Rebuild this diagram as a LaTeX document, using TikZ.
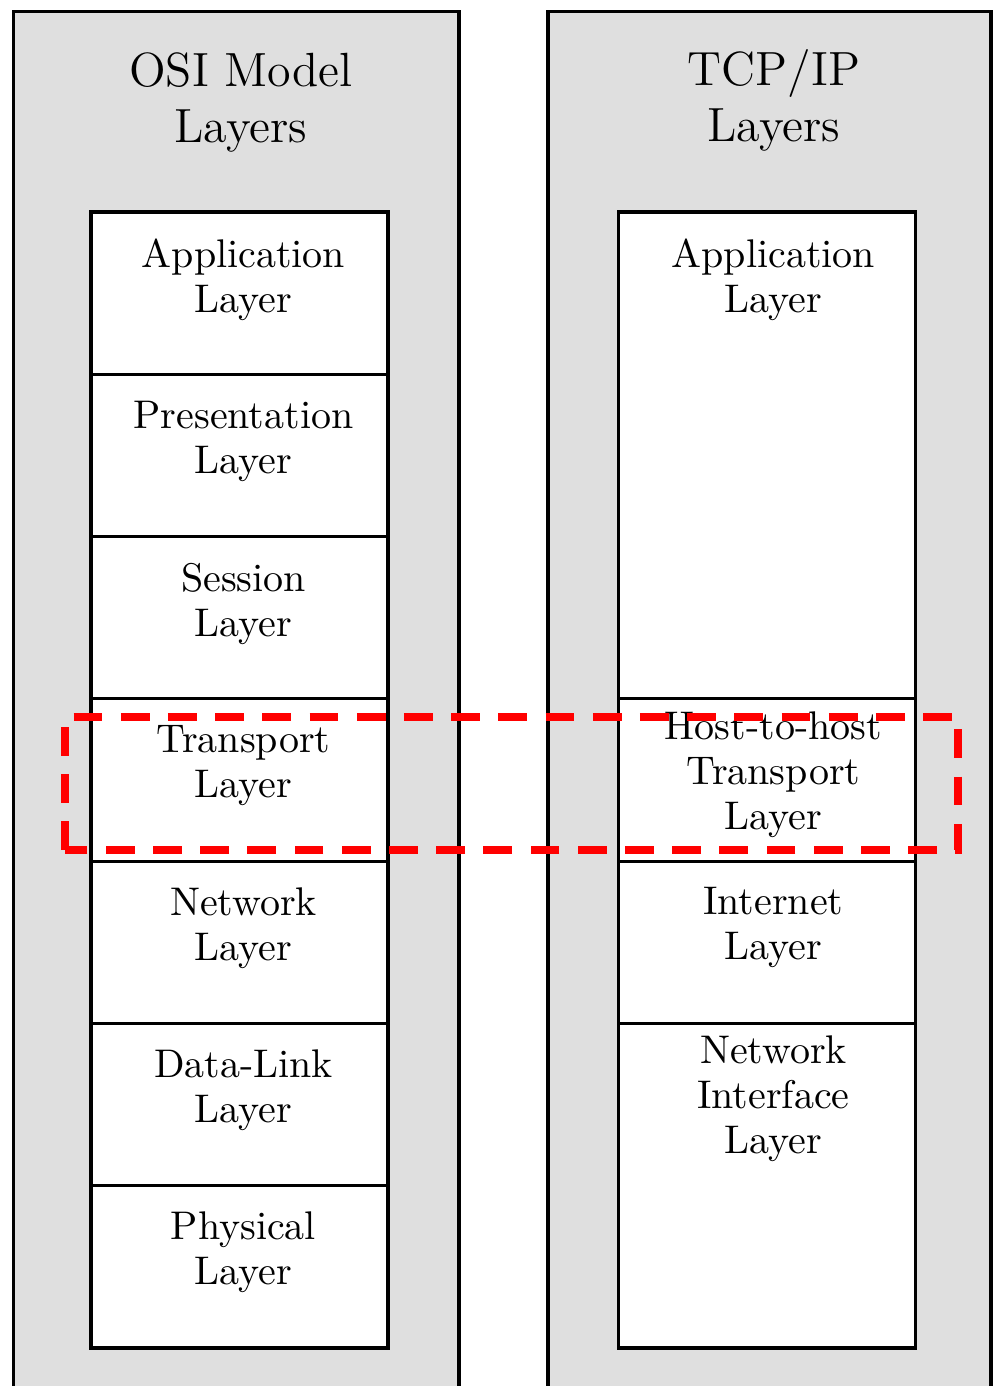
\documentclass[tikz,border=0pt]{standalone}
\usetikzlibrary{positioning}

\tikzset{
  panel/.style={draw, thick, fill=gray!25},
  layer/.style={draw, thick, fill=white, anchor=north, minimum width=74.25pt, minimum height=40.57pt, inner sep=0pt, outer sep=0pt},
  lbl/.style={align=center, inner sep=0pt, font=\fontsize{10}{11.25}\selectfont},
  title/.style={align=center, inner sep=0pt, anchor=north, font=\fontsize{12}{14}\selectfont},
  highlight/.style={draw=red, line width=2pt, dash pattern=on 7.2pt off 4.6pt}
}

\begin{document}
\begin{tikzpicture}[x=0.25pt, y=-0.25pt]
   \useasboundingbox (0,0) rectangle (993,1386);

   % the two gray panels
   \draw [panel] (13.5,11.5) rectangle (459,1420);
   \draw [panel] (548,11.5) rectangle (991,1420);

   \node [title] (osititle) at (241,51.7) {OSI Model\\Layers};
   \node [title] (tcptitle) at (774,49) {TCP/IP\\Layers};

   % OSI stack
   \node [layer] (osiA) at (239.5,212) {};
   \node [layer, below=0pt of osiA] (osiP) {};
   \node [layer, below=0pt of osiP] (osiS) {};
   \node [layer, below=0pt of osiS] (osiT) {};
   \node [layer, below=0pt of osiT] (osiN) {};
   \node [layer, below=0pt of osiN] (osiD) {};
   \node [layer, below=0pt of osiD] (osiPh) {};

   \node [lbl, below=6.4pt of osiA.north, xshift=1pt] (osiAtxt) {Application\\Layer};
   \node [lbl, below=6.4pt of osiP.north, xshift=1pt] (osiPtxt) {Presentation\\Layer};
   \node [lbl, below=6.4pt of osiS.north, xshift=1pt] (osiStxt) {Session\\Layer};
   \node [lbl, below=6.4pt of osiT.north, xshift=1pt] (osiTtxt) {Transport\\Layer};
   \node [lbl, below=6.4pt of osiN.north, xshift=1pt] (osiNtxt) {Network\\Layer};
   \node [lbl, below=6.4pt of osiD.north, xshift=1pt] (osiDtxt) {Data-Link\\Layer};
   \node [lbl, below=6.4pt of osiPh.north, xshift=1pt] (osiPhtxt) {Physical\\Layer};

   % TCP/IP stack
   \node [layer, minimum height=121.71pt] (tcpA) at (767,212) {};
   \node [layer, below=0pt of tcpA] (tcpH) {};
   \node [layer, below=0pt of tcpH] (tcpI) {};
   \node [layer, below=0pt of tcpI, minimum height=81.14pt] (tcpN) {};

   \node [lbl, below=6.4pt of tcpA.north, xshift=1.6pt] (tcpAtxt) {Application\\Layer};
   \node [lbl, below=3pt of tcpH.north, xshift=1.6pt] (tcpHtxt) {Host-to-host\\Transport\\Layer};
   \node [lbl, below=6.4pt of tcpI.north, xshift=1.6pt] (tcpItxt) {Internet\\Layer};
   \node [lbl, below=3pt of tcpN.north, xshift=1.6pt] (tcpNtxt) {Network\\Interface\\Layer};

   % transport layers compared
   \draw [highlight] (65,850) rectangle (958,717);
\end{tikzpicture}
\end{document}
